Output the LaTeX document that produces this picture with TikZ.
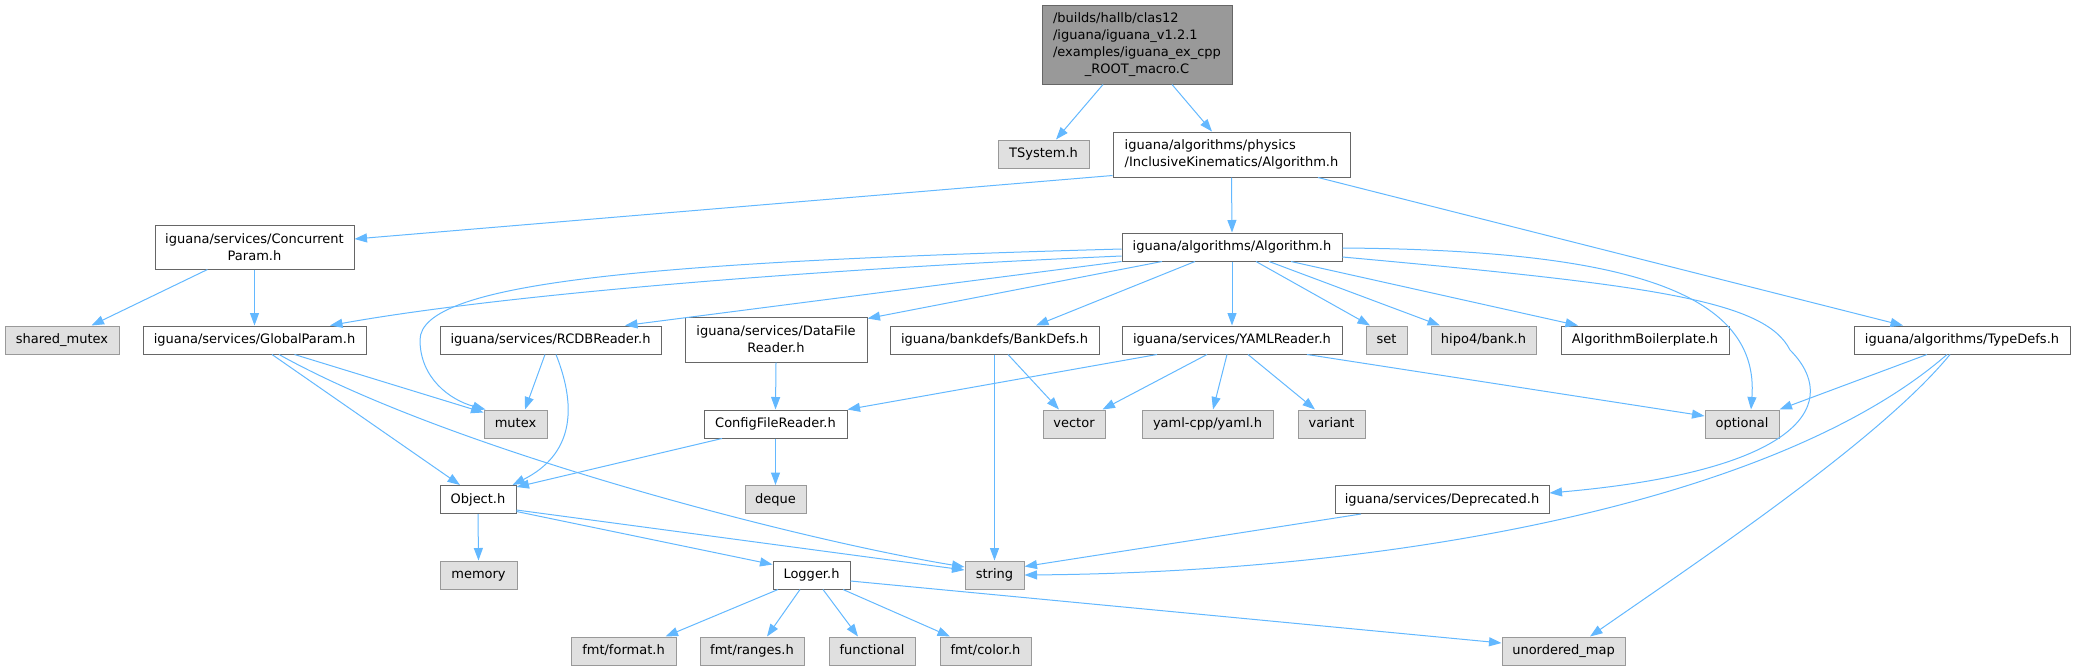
\documentclass[tikz,border=0pt]{standalone}
\usepackage{fontspec}
\setmainfont{DejaVu Sans}
\usetikzlibrary{arrows.meta}
\definecolor{edgec}{HTML}{63B8FF}
\definecolor{bord}{HTML}{666666}
\definecolor{extbord}{HTML}{999999}
\definecolor{extfill}{HTML}{E0E0E0}
\definecolor{rootfill}{HTML}{999999}
\begin{document}
\begin{tikzpicture}[x=1pt,y=-1pt,
 base/.style={line width=1pt, inner sep=0pt, font=\fontsize{13}{17.2}\selectfont, text=black},
 box/.style={base, draw=bord, fill=white, minimum height=28pt},
 one/.style={text height=9.6pt, text depth=2.6pt},
 ext/.style={box, one, draw=extbord, fill=extfill},
 hdr/.style={box, one},
 rootbox/.style={base, draw=bord, fill=rootfill},
 link/.style={draw=edgec, line width=1pt, -{Triangle[length=12.5pt,width=9pt]}},
]
\useasboundingbox (0,0) rectangle (2076,670);

% nodes
\node[rootbox, minimum width=190pt, minimum height=79pt] (root) at (1137,44.5)
 {\begin{tabular}{@{}l@{}}/builds/hallb/clas12\\/iguana/iguana\_v1.2.1\\/examples/iguana\_ex\_cpp\\\multicolumn{1}{@{}c@{}}{\_ROOT\_macro.C}\end{tabular}};
\node[ext, minimum width=91pt] (tsys) at (1043.5,154) {TSystem.h};
\node[box, minimum width=237pt, minimum height=45pt, align=left] (ik) at (1231.5,154.5)
 {iguana/algorithms/physics\\/InclusiveKinematics/Algorithm.h};
\node[hdr, minimum width=220pt] (alg) at (1232,247) {iguana/algorithms/Algorithm.h};
\node[box, minimum width=199pt, minimum height=44pt, align=center] (conc) at (254.5,247)
 {iguana/services/Concurrent\\Param.h};

\node[ext, minimum width=114pt] (shm) at (62,340) {shared\_mutex};
\node[hdr, minimum width=223pt] (glob) at (254.5,340) {iguana/services/GlobalParam.h};
\node[hdr, minimum width=221pt] (rcdb) at (550.5,340) {iguana/services/RCDBReader.h};
\node[box, minimum width=182pt, minimum height=45pt, align=center] (dfr) at (776,339.5)
 {iguana/services/DataFile\\Reader.h};
\node[hdr, minimum width=209pt] (bank) at (994.5,340) {iguana/bankdefs/BankDefs.h};
\node[hdr, minimum width=220pt] (yaml) at (1232,340) {iguana/services/YAMLReader.h};
\node[ext, minimum width=41pt] (set) at (1386.5,340) {set};
\node[ext, minimum width=105pt] (hipo) at (1483.5,340) {hipo4/bank.h};
\node[hdr, minimum width=168pt] (boil) at (1645,340) {AlgorithmBoilerplate.h};
\node[hdr, minimum width=216pt] (tdef) at (1962,340) {iguana/algorithms/TypeDefs.h};

\node[ext, minimum width=63pt] (mutex) at (515.5,424) {mutex};
\node[hdr, minimum width=143pt] (cfg) at (775.5,424) {ConfigFileReader.h};
\node[ext, minimum width=62pt] (vec) at (1074,424) {vector};
\node[ext, minimum width=131pt] (ycpp) at (1207.5,424) {yaml-cpp/yaml.h};
\node[ext, minimum width=67pt] (var) at (1331.5,424) {variant};
\node[ext, minimum width=74pt] (opt) at (1742,424) {optional};

\node[hdr, minimum width=76pt] (obj) at (478,499.5) {Object.h};
\node[ext, minimum width=61pt] (deq) at (775.5,499.5) {deque};
\node[hdr, minimum width=214pt] (depr) at (1442,499.5) {iguana/services/Deprecated.h};

\node[ext, minimum width=77pt] (mem) at (478.5,575) {memory};
\node[ext, minimum width=59pt] (str) at (994.5,575) {string};
\node[hdr, minimum width=77pt] (log) at (811.5,575) {Logger.h};

\node[ext, minimum width=105pt] (ffmt) at (623.5,651) {fmt/format.h};
\node[ext, minimum width=104pt] (frng) at (752,651) {fmt/ranges.h};
\node[ext, minimum width=86pt] (func) at (872,651) {functional};
\node[ext, minimum width=91pt] (fcol) at (985.5,651) {fmt/color.h};
\node[ext, minimum width=123pt] (umap) at (1563.5,651) {unordered\_map};

% edges
\draw[link] ([xshift=-34pt]root.south) -- ([xshift=12.5pt]tsys.north);
\draw[link] ([xshift=35pt]root.south) -- ([xshift=-19.5pt]ik.north);
\draw[link] ([yshift=2pt]ik.south west) -- ([yshift=8pt]conc.east);
\draw[link] (ik.south) -- (alg.north);
\draw[link] ([xshift=86.5pt]ik.south) -- ([xshift=-59pt]tdef.north);
\draw[link] ([xshift=-47pt]conc.south) -- ([xshift=29.5pt]shm.north);
\draw[link] (conc.south) -- (glob.north);

\draw[link] ([yshift=-2pt]alg.west) .. controls (650,262) and (420,282) .. (420,340)
  .. controls (420,378) and (450,400) .. ([xshift=2pt]mutex.north west);
\draw[link] ([yshift=-9pt]alg.west) .. controls (800,270) and (500,295) .. ([xshift=75.5pt]glob.north);
\draw[link] (alg.south west) -- ([xshift=74.5pt]rcdb.north);
\draw[link] ([xshift=-70pt]alg.south) -- ([yshift=-2pt]dfr.north east);
\draw[link] ([xshift=-37pt]alg.south) -- ([xshift=41.5pt]bank.north);
\draw[link] (alg.south) -- (yaml.north);
\draw[link] ([xshift=24pt]alg.south) -- ([xshift=-16.5pt]set.north);
\draw[link] ([xshift=37pt]alg.south) -- ([xshift=-43.5pt]hipo.north);
\draw[link] ([xshift=59pt]alg.south) -- ([xshift=-67pt]boil.north);
\draw[link] ([yshift=-1pt]alg.east) .. controls (1620,250) and (1760,290) .. ([xshift=9pt]opt.north);
\draw[link] ([yshift=-10pt]alg.east) .. controls (1650,285) and (1765,300) .. (1790,350)
  .. controls (1840,400) and (1810,470) .. ([yshift=6.5pt]depr.east);

\draw[link] ([xshift=-35pt]tdef.south) -- (opt.north east);
\draw[link] ([xshift=-15pt]tdef.south) .. controls (1780,500) and (1400,572) .. (str.east);
\draw[link] ([xshift=-12pt]tdef.south) .. controls (1880,440) and (1700,560) .. ([xshift=26.5pt]umap.north);

\draw[link] ([xshift=40pt]glob.south) -- ([yshift=-3pt]mutex.north west);
\draw[link] ([xshift=17.5pt]glob.south) -- ([xshift=-18pt]obj.north);
\draw[link] ([xshift=24.5pt]glob.south) .. controls (450,450) and (800,540) .. ([yshift=8pt]str.west);

\draw[link] ([xshift=-5.5pt]rcdb.south) -- ([xshift=9.5pt]mutex.north);
\draw[link] ([xshift=5.5pt]rcdb.south) .. controls (578,410) and (572,455) .. ([xshift=-4pt]obj.north east);

\draw[link] (dfr.south) -- (cfg.north);
\draw[link] ([xshift=-53.5pt]cfg.south) -- ([yshift=-2pt]obj.north east);
\draw[link] (cfg.south) -- (deq.north);

\draw[link] ([xshift=-75pt]yaml.south) -- (cfg.north east);
\draw[link] ([xshift=-25pt]yaml.south) -- ([xshift=-3pt]vec.north east);
\draw[link] ([xshift=-5pt]yaml.south) -- ([xshift=5.5pt]ycpp.north);
\draw[link] ([xshift=16pt]yaml.south) -- ([xshift=-16.5pt]var.north);
\draw[link] ([xshift=75pt]yaml.south) -- ([yshift=8pt]opt.west);

\draw[link] ([xshift=13.5pt]bank.south) -- ([xshift=-15pt]vec.north);
\draw[link] (bank.south) -- (str.north);

\draw[link] (obj.south) -- (mem.north);
\draw[link] ([yshift=-10.5pt]obj.east) -- ([yshift=5pt]str.west);
\draw[link] ([yshift=-12pt]obj.east) -- ([yshift=-4pt]log.north west);

\draw[link] ([xshift=-81pt]depr.south) -- ([yshift=-6pt]str.north east);

\draw[link] ([xshift=-33.5pt]log.south) -- ([xshift=-11pt]ffmt.north east);
\draw[link] ([xshift=-11.5pt]log.south) -- ([xshift=15pt]frng.north);
\draw[link] ([xshift=11.5pt]log.south) -- ([xshift=-14pt]func.north);
\draw[link] ([xshift=31.5pt]log.south) -- ([xshift=-35.5pt]fcol.north);
\draw[link] ([yshift=-6pt]log.east) -- ([yshift=8pt]umap.west);
\end{tikzpicture}
\end{document}
